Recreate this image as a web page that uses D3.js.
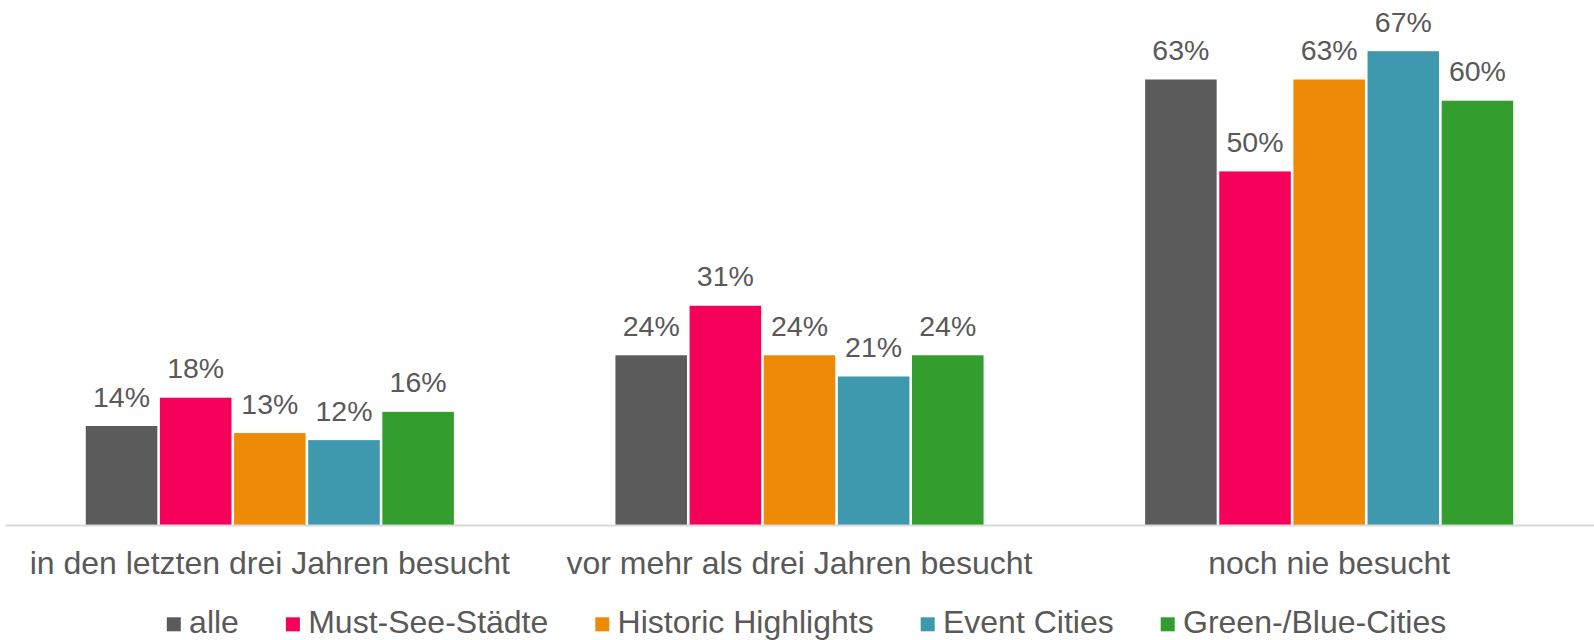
<!DOCTYPE html>
<html lang="de">
<head>
<meta charset="utf-8">
<script src="https://cdn.jsdelivr.net/npm/d3@7"></script>
<style>
  html, body { margin: 0; padding: 0; background: #ffffff; }
  svg { display: block; }
  text { font-family: "Liberation Sans", Arial, Helvetica, sans-serif; fill: #595959; }
</style>
</head>
<body>
<svg id="chart" width="1594" height="640"></svg>
<script>
// Besuchsstatus nach Städtetyp (Anteile in Prozent)
const categories = ["in den letzten drei Jahren besucht", "vor mehr als drei Jahren besucht", "noch nie besucht"];
const seriesNames = ["alle", "Must-See-Städte", "Historic Highlights", "Event Cities", "Green-/Blue-Cities"];
const alle = [14, 24, 63];
const mustSee = [18, 31, 50];
const historic = [13, 24, 63];
const eventCities = [12, 21, 67];
const greenBlue = [16, 24, 60];
const seriesColors = ["#5b5b5b", "#f5005a", "#ed8b07", "#3f99ae", "#339e2d"];

const seriesValues = [alle, mustSee, historic, eventCities, greenBlue];
const rows = categories.map((c, i) => ({
  category: c,
  values: seriesNames.map((s, j) => ({ series: s, value: seriesValues[j][i], color: seriesColors[j] }))
}));

const svg = d3.select("#chart");

const baseline = 525;
const x0 = d3.scaleBand().domain(categories).range([5, 1594]).paddingInner(0.305).paddingOuter(0.1525);
const x1 = d3.scaleBand().domain(seriesNames).range([0, x0.bandwidth()]).paddingInner(0.035);
const y = d3.scaleLinear().domain([0, 70]).range([baseline, 30]);

// Bars
const groups = svg.append("g").selectAll("g")
  .data(rows)
  .join("g")
  .attr("transform", d => `translate(${x0(d.category)},0)`);

groups.selectAll("rect")
  .data(d => d.values)
  .join("rect")
  .attr("x", d => x1(d.series))
  .attr("y", d => y(d.value))
  .attr("width", x1.bandwidth())
  .attr("height", d => baseline - y(d.value))
  .attr("fill", d => d.color);

// Value labels above the bars
groups.selectAll("text")
  .data(d => d.values)
  .join("text")
  .attr("x", d => x1(d.series) + x1.bandwidth() / 2)
  .attr("y", d => y(d.value) - 19.5)
  .attr("text-anchor", "middle")
  .style("font-size", "28.5px")
  .text(d => d.value + "%");

// Category axis
const axis = svg.append("g")
  .attr("transform", `translate(0,${baseline})`)
  .call(d3.axisBottom(x0).tickSize(0).tickSizeOuter(0));
axis.select(".domain").attr("stroke", "#d9d9d9").attr("stroke-width", 2);
axis.selectAll(".tick text")
  .attr("y", 48.5)
  .attr("dy", null)
  .attr("fill", "#595959")
  .style("font-size", "32px")
  .style("font-family", "\"Liberation Sans\", Arial, Helvetica, sans-serif");

// Legend, centred below the chart
const legend = svg.append("g");
const legendItems = legend.selectAll("g")
  .data(seriesNames.map((s, i) => ({ name: s, color: seriesColors[i] })))
  .join("g");
legendItems.append("rect")
  .attr("x", 0)
  .attr("y", 617.3)
  .attr("width", 14)
  .attr("height", 14)
  .attr("fill", d => d.color);
legendItems.append("text")
  .attr("x", 22.3)
  .attr("y", 633.3)
  .style("font-size", "32px")
  .text(d => d.name);

let offset = 0;
const positions = [];
legendItems.each(function () {
  const w = this.querySelector("text").getComputedTextLength();
  positions.push(offset);
  offset += 22.3 + w + 47;
});
const totalWidth = offset - 47;
const legendStart = 806.5 - totalWidth / 2;
legendItems.attr("transform", (d, i) => `translate(${legendStart + positions[i]},0)`);
</script>
</body>
</html>
